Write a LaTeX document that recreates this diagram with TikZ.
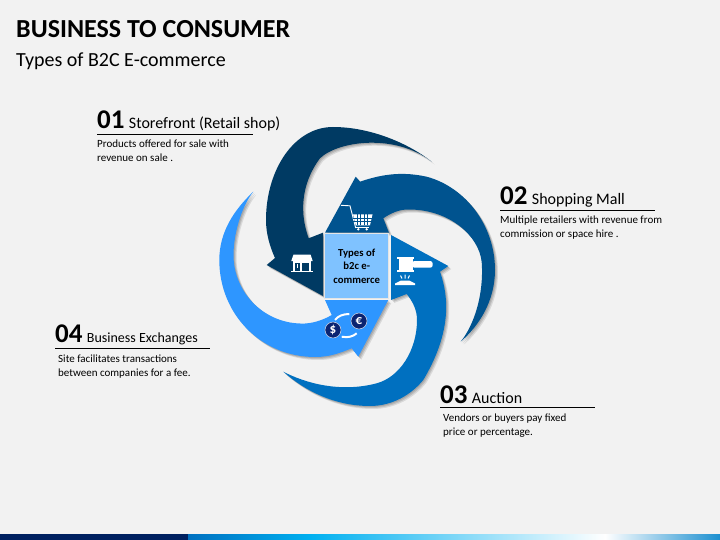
\documentclass[tikz,border=0pt]{standalone}
\usepackage{fontspec}
\setmainfont{Carlito}
\usetikzlibrary{positioning,shadows}
\definecolor{pagegray}{HTML}{F2F2F2}
\definecolor{arrowone}{HTML}{003A63}
\definecolor{arrowtwo}{HTML}{00538F}
\definecolor{arrowthree}{HTML}{0070C0}
\definecolor{arrowfour}{HTML}{2E96FF}
\definecolor{centerblue}{HTML}{7FC2FF}
\definecolor{coinblue}{HTML}{0A2472}
\definecolor{barnavy}{HTML}{002060}
\definecolor{barcyan}{HTML}{00B0F0}
\definecolor{barend}{HTML}{1B8FD0}
\tikzset{
softshadow/.style={drop shadow={shadow xshift=1pt,shadow yshift=-1pt,fill=black,opacity=.12},
  drop shadow={shadow xshift=2pt,shadow yshift=-2pt,fill=black,opacity=.12},
  drop shadow={shadow xshift=3pt,shadow yshift=-3pt,fill=black,opacity=.1}},
spiral/.style={softshadow,line join=miter},
numlabel/.style={inner sep=0pt,font=\fontsize{27}{30}\selectfont\bfseries},
headlabel/.style={inner sep=0pt,font=\fontsize{16}{18}\selectfont},
bodylabel/.style={inner sep=0pt,anchor=north west,align=left,font=\fontsize{11}{14}\selectfont},
rulekey/.style={black,line width=0.9pt},
iconfill/.style={fill=white,draw=none},
coin/.style={circle,fill=coinblue,draw=white!85!coinblue,line width=0.5pt,minimum size=16pt,inner sep=0pt,text=white,font=\fontsize{13}{13}\selectfont\bfseries}
}
\begin{document}
\begin{tikzpicture}[x=1pt,y=-1pt]
\useasboundingbox (0,0) rectangle (720,540);
\fill[pagegray] (0,0) rectangle (720,540);
% bottom bar
\fill[barnavy] (0,534) rectangle (188,540);
\shade[left color=arrowthree,right color=barcyan,draw=none] (188,534) rectangle (310,540);
\shade[left color=barcyan,right color=white,draw=none] (310,534) rectangle (605,540);
\shade[left color=white,right color=barend,draw=none] (605,534) rectangle (720,540);
% title
\node[inner sep=0pt,anchor=base west,font=\fontsize{26}{30}\selectfont\bfseries] (title) at (16,37.5) {BUSINESS TO CONSUMER};
\node[inner sep=0pt,anchor=base west,font=\fontsize{20}{24}\selectfont] (subtitle) at (16,67) {Types of B2C E-commerce};
% arrows
\fill[spiral,arrowone] (431.7,161.7) .. controls (408,143) and (370,127) .. (333,127)
 .. controls (294,127) and (266,170) .. (266,220) .. controls (266,234) and (270,247) .. (275,258)
 -- (266.7,265) -- (323,296) -- (323,232.7) -- (308.7,238.3)
 .. controls (300,215) and (300,185) .. (320,158.3) .. controls (338,141) and (395,133) .. cycle;
\fill[spiral,arrowtwo] (360,181.7) .. controls (385,173) and (405,172) .. (426.7,176.7)
 .. controls (465,187) and (495,225) .. (495,270) .. controls (495,300) and (480,325) .. (460.7,341.7)
 .. controls (474,325) and (484,295) .. (481.7,262) .. controls (479,236) and (450,210) .. (410,209.5)
 .. controls (400,209) and (391,213) .. (383.3,218.3) -- (389,232.7) -- (325,232.7) -- (355.7,176.7) -- cycle;
\fill[spiral,arrowthree] (440,271.7) .. controls (450,300) and (450,335) .. (423.3,380)
 .. controls (411,395) and (392,406) .. (370,406) .. controls (335,406) and (305,391) .. (283.3,371.7)
 .. controls (305,383) and (340,393) .. (376.7,383.3) .. controls (400,377) and (417,350) .. (417,320)
 .. controls (417,310) and (413,302) .. (406.7,294) -- (391,300) -- (391,235) -- (448.3,266) -- cycle;
\fill[spiral,arrowfour] (351.7,348.3) .. controls (340,353) and (330,357) .. (315,357)
 .. controls (262,357) and (219.3,315) .. (219.3,260) .. controls (219.3,232) and (234,210) .. (253.3,191.7)
 .. controls (241,207) and (233.5,235) .. (233.5,255) .. controls (233.5,293) and (265,325) .. (305,323.5)
 .. controls (315,323) and (325,319) .. (331.7,315) -- (325,300) -- (388.3,300) -- (358.3,356.7) -- cycle;
% center
\node[draw=white!80!gray,line width=1pt,fill=centerblue,minimum width=64pt,minimum height=65pt,inner sep=0pt,align=center,font=\fontsize{10.7}{13.5}\selectfont\bfseries] (center) at (356.7,266) {Types of\\b2c e-\\commerce};
% store icon
\fill[iconfill] (293.5,254.5) -- (310.5,254.5) -- (312.7,261) -- (291.3,261) -- cycle;
\fill[iconfill] (293,261) rectangle (311,270.5);
\fill[iconfill] (291,270.5) rectangle (313,272.3);
\fill[arrowone] (295,263) rectangle (299.5,270.5);
\fill[arrowone] (302,263) rectangle (309,270.5);
\fill[iconfill] (297,264) rectangle (297.8,268);
% cart icon
\draw[white,line width=0.9pt] (341,205.3) -- (350,205.8) -- (355.7,228);
\fill[iconfill] (353,214.5) -- (372.5,214.5) -- (370,225.3) -- (355.7,225.3) -- cycle;
\foreach \gridx in {357,360.5,364,367.5}
  \draw[arrowtwo,line width=0.5pt] (\gridx,214.5) -- (\gridx,225.3);
\foreach \gridy in {218,221.5}
  \draw[arrowtwo,line width=0.5pt] (353,\gridy) -- (372.5,\gridy);
\draw[white,line width=0.8pt] (355.7,227.5) -- (369,227.5);
\fill[iconfill] (358.3,229.3) circle (1.3);
\fill[iconfill] (366.7,229.3) circle (1.3);
% gavel icon
\fill[iconfill] (397.3,256.7) rectangle (414,259);
\fill[iconfill] (399,259) rectangle (412.5,269.5);
\fill[iconfill] (397.3,269.5) rectangle (414,271.7);
\fill[iconfill,rounded corners=2.5pt] (412,261) rectangle (432.7,267.7);
\fill[iconfill] (395,285) -- (415,285) -- (415,283.5) -- (409,280.5) -- (401,280.5) -- (395,283.5) -- cycle;
\draw[white,line width=1pt] (405,274.5) -- (405,278.5) (400.5,275.5) -- (402,278.5) (409.5,275.5) -- (408,278.5);
% coin icon
\draw[white,line width=2pt] (335,320) .. controls (338,316) and (343,314) .. (349.3,314);
\draw[white,line width=2pt] (341.7,336.7) .. controls (348,338) and (353,336.5) .. (356.7,333.3);
\node[coin] (dollar) at (333,330) {\$};
\node[coin] (euro) at (359,321) {€};
% labels
\node[numlabel,anchor=base west] (numone) at (97,129) {01};
\node[headlabel,base right=4pt of numone] (headone) {Storefront (Retail shop)};
\draw[rulekey] (97,134.5) -- (253,134.5);
\node[bodylabel] (bodyone) at (97,140) {Products offered for sale with\\revenue on sale .};
\node[numlabel,anchor=base west] (numtwo) at (500,205) {02};
\node[headlabel,base right=4pt of numtwo] (headtwo) {Shopping Mall};
\draw[rulekey] (500,210) -- (655,210);
\node[bodylabel] (bodytwo) at (500,216) {Multiple retailers with revenue from\\commission or space hire .};
\node[numlabel,anchor=base west] (numthree) at (440,403) {03};
\node[headlabel,base right=4pt of numthree] (headthree) {Auction};
\draw[rulekey] (440,407.5) -- (595,407.5);
\node[bodylabel] (bodythree) at (443,414) {Vendors or buyers pay fixed\\price or percentage.};
\node[numlabel,anchor=base west] (numfour) at (55,342.5) {04};
\node[headlabel,base right=4pt of numfour,font=\fontsize{14}{18}\selectfont] (headfour) {Business Exchanges};
\draw[rulekey] (55,348) -- (210,348);
\node[bodylabel] (bodyfour) at (58,354.5) {Site facilitates transactions\\between companies for a fee.};
\end{tikzpicture}
\end{document}
